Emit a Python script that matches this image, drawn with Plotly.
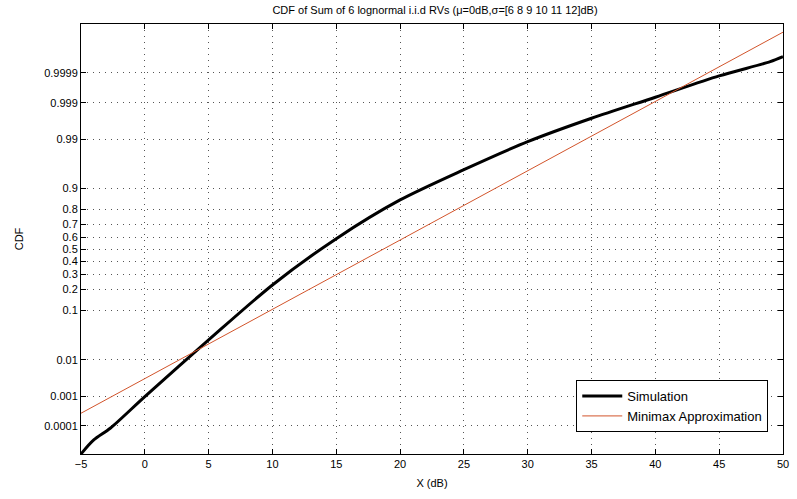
import plotly.graph_objects as go
from statistics import NormalDist

# ---- data ----
sim_x = [-5.0, -4.0, -2.71, 0.0, 5.0, 10.0, 15.0, 20.0, 25.0,
         30.0, 35.0, 40.0, 45.0, 49.0, 50.0]
sim_cdf = [8.2e-6, 2.98e-5, 8.24e-5, 9.66e-4, 0.02826, 0.2272,
           0.590, 0.8515, 0.9536, 0.98843, 0.997145, 0.99933,
           0.999872, 0.999962, 0.9999757]

approx_x = [-5.0, 20.0, 50.0]
approx_cdf = [2.79e-4, 0.5785, 0.99999765]

ytick_p = [0.0001, 0.001, 0.01, 0.1, 0.2, 0.3, 0.4, 0.5, 0.6, 0.7, 0.8, 0.9,
           0.99, 0.999, 0.9999]
ytick_text = ["0.0001", "0.001", "0.01", "0.1", "0.2", "0.3", "0.4", "0.5",
              "0.6", "0.7", "0.8", "0.9", "0.99", "0.999", "0.9999"]
xtick_vals = [-5, 0, 5, 10, 15, 20, 25, 30, 35, 40, 45, 50]

# probability (normal-probit) scale
nd = NormalDist()
probit = lambda ps: [nd.inv_cdf(p) for p in ps]

fig = go.Figure()
fig.add_trace(go.Scatter(x=sim_x, y=probit(sim_cdf), mode="lines",
                         line=dict(color="black", width=3, shape="spline", smoothing=0.8),
                         name="Simulation"))
fig.add_trace(go.Scatter(x=approx_x, y=probit(approx_cdf), mode="lines",
                         line=dict(color="#D2542B", width=1),
                         name="Minimax Approximation"))

font = "Liberation Sans, Arial, Helvetica, sans-serif"
axis_common = dict(showline=True, linecolor="black", linewidth=1, mirror="ticks",
                   ticks="inside", ticklen=5, tickcolor="black",
                   showgrid=True, gridcolor="#555555", gridwidth=1, griddash="1px,5px",
                   zeroline=False, tickfont=dict(size=11, color="black", family=font))

fig.update_xaxes(range=[-5, 50], tickvals=xtick_vals,
                 title=dict(text="X (dB)", font=dict(size=11, family=font, color="black"),
                            standoff=10),
                 **axis_common)
fig.update_yaxes(range=[-4.31, 4.75], tickvals=probit(ytick_p), ticktext=ytick_text,
                 title=dict(text="CDF", font=dict(size=11, family=font, color="black"),
                            standoff=18),
                 **axis_common)

fig.update_layout(
    width=797, height=499,
    margin=dict(l=81, r=8, t=24, b=45),
    paper_bgcolor="white", plot_bgcolor="white",
    title=dict(text="CDF of Sum of 6 lognormal i.i.d RVs (\u03bc=0dB,\u03c3=[6 8 9 10 11 12]dB)",
               x=(81 + 789) / 2 / 797, xanchor="center", y=1 - 10 / 499, yanchor="middle",
               font=dict(size=11, family=font, color="black")),
    legend=dict(x=0.979, y=0.051, xanchor="right", yanchor="bottom",
                bgcolor="white", bordercolor="black", borderwidth=1,
                font=dict(size=13, family=font, color="black"),
                itemwidth=40, tracegroupgap=0),
    showlegend=True,
)

fig.write_html("out.html")
